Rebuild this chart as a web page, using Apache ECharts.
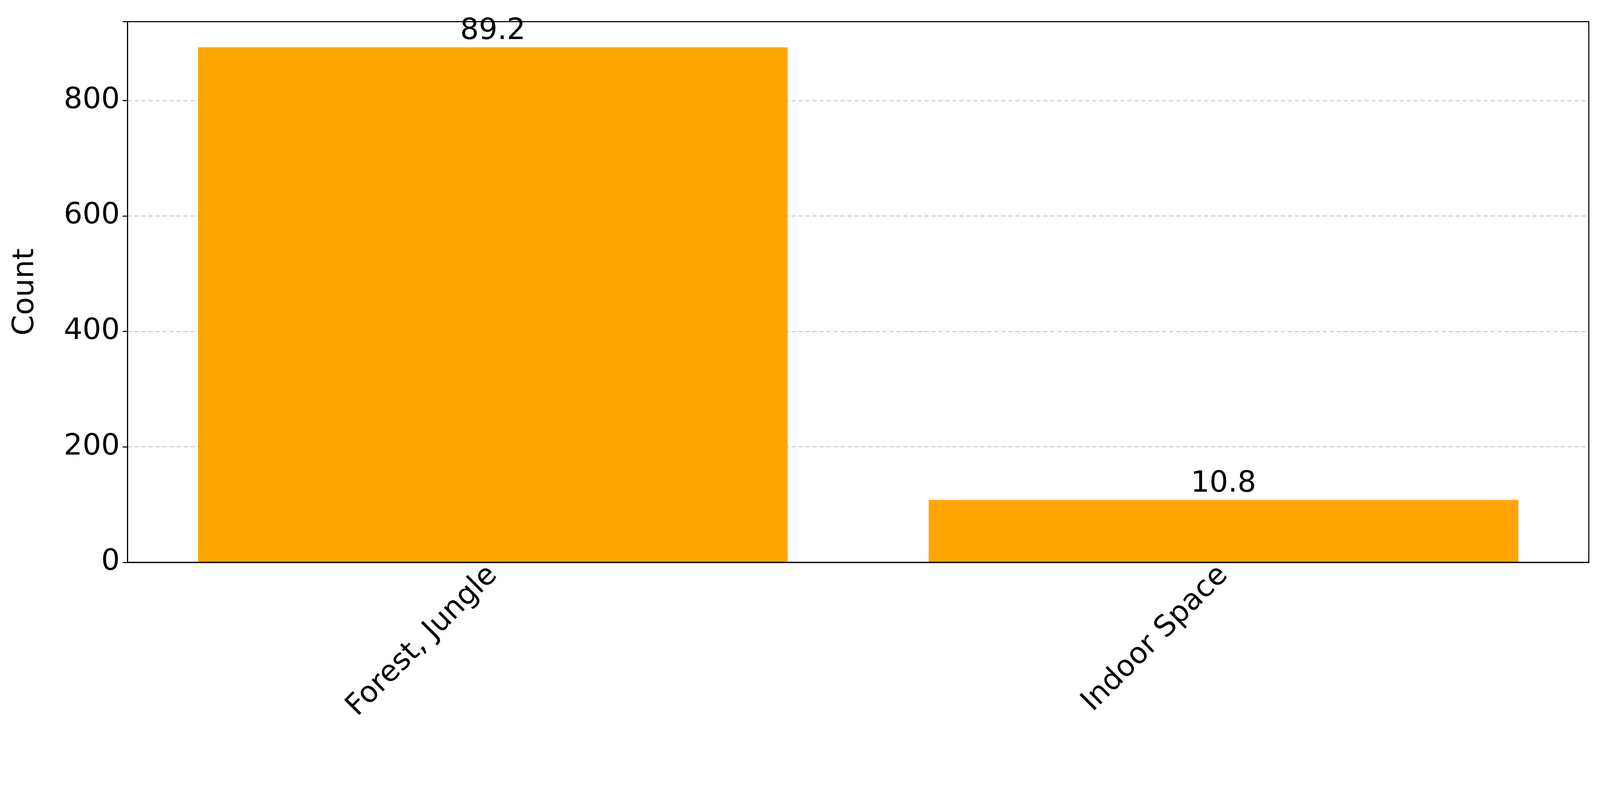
<!DOCTYPE html>
<html><head><meta charset="utf-8">
<script src="https://cdn.jsdelivr.net/npm/echarts@6/dist/echarts.min.js"></script>
<style>html,body{margin:0;padding:0;background:#fff;overflow:hidden}#c{width:100vw;height:100vh}</style>
</head><body><div id="c"></div>
<script>
const categories = ["Forest, Jungle", "Indoor Space"];
const counts = [892, 108];
const percentLabels = ["89.2", "10.8"];
const yTicks = [0, 200, 400, 600, 800];

const chart = echarts.init(document.getElementById('c'));
const W = chart.getWidth(), H = chart.getHeight();
const s = W / 4578;
chart.setOption({
  animation: false,
  textStyle: { fontFamily: 'DejaVu Sans' },
  grid: { left: '7.97%', right: '0.7%', top: '2.7%', bottom: '29.8%', show: true, borderColor: '#000', borderWidth: 3 * s, backgroundColor: 'transparent', z: 5 },
  xAxis: {
    type: 'category', data: categories,
    axisLine: { lineStyle: { color: '#000', width: 3 * s } },
    axisTick: { alignWithLabel: true, length: 14 * s, lineStyle: { color: '#000', width: 3 * s } },
    axisLabel: { rotate: 45, fontSize: 84 * s, color: '#000', margin: 24 * s, fontFamily: 'DejaVu Sans' }
  },
  yAxis: {
    type: 'value', min: 0, max: 936.6, interval: 200,
    name: 'Count', nameLocation: 'middle', nameGap: 250 * s,
    nameTextStyle: { fontSize: 84 * s, color: '#000', fontFamily: 'DejaVu Sans' },
    axisLine: { show: true, lineStyle: { color: '#000', width: 3 * s } },
    axisTick: { show: true, length: 14 * s, lineStyle: { color: '#000', width: 3 * s } },
    axisLabel: { fontSize: 84 * s, color: '#000', margin: 22 * s, fontFamily: 'DejaVu Sans',
      formatter: v => yTicks.includes(v) ? String(v) : '' },
    splitLine: { show: true, lineStyle: { color: '#bbb', type: [12 * s, 8 * s], width: 2 * s } }
  },
  series: [{
    type: 'bar', data: counts, barWidth: '80.7%',
    itemStyle: { color: '#FFA500' },
    label: { show: true, position: 'top', distance: 4 * s, fontSize: 84 * s, color: '#000', fontFamily: 'DejaVu Sans',
      formatter: p => percentLabels[p.dataIndex] }
  }]
});
</script></body></html>
